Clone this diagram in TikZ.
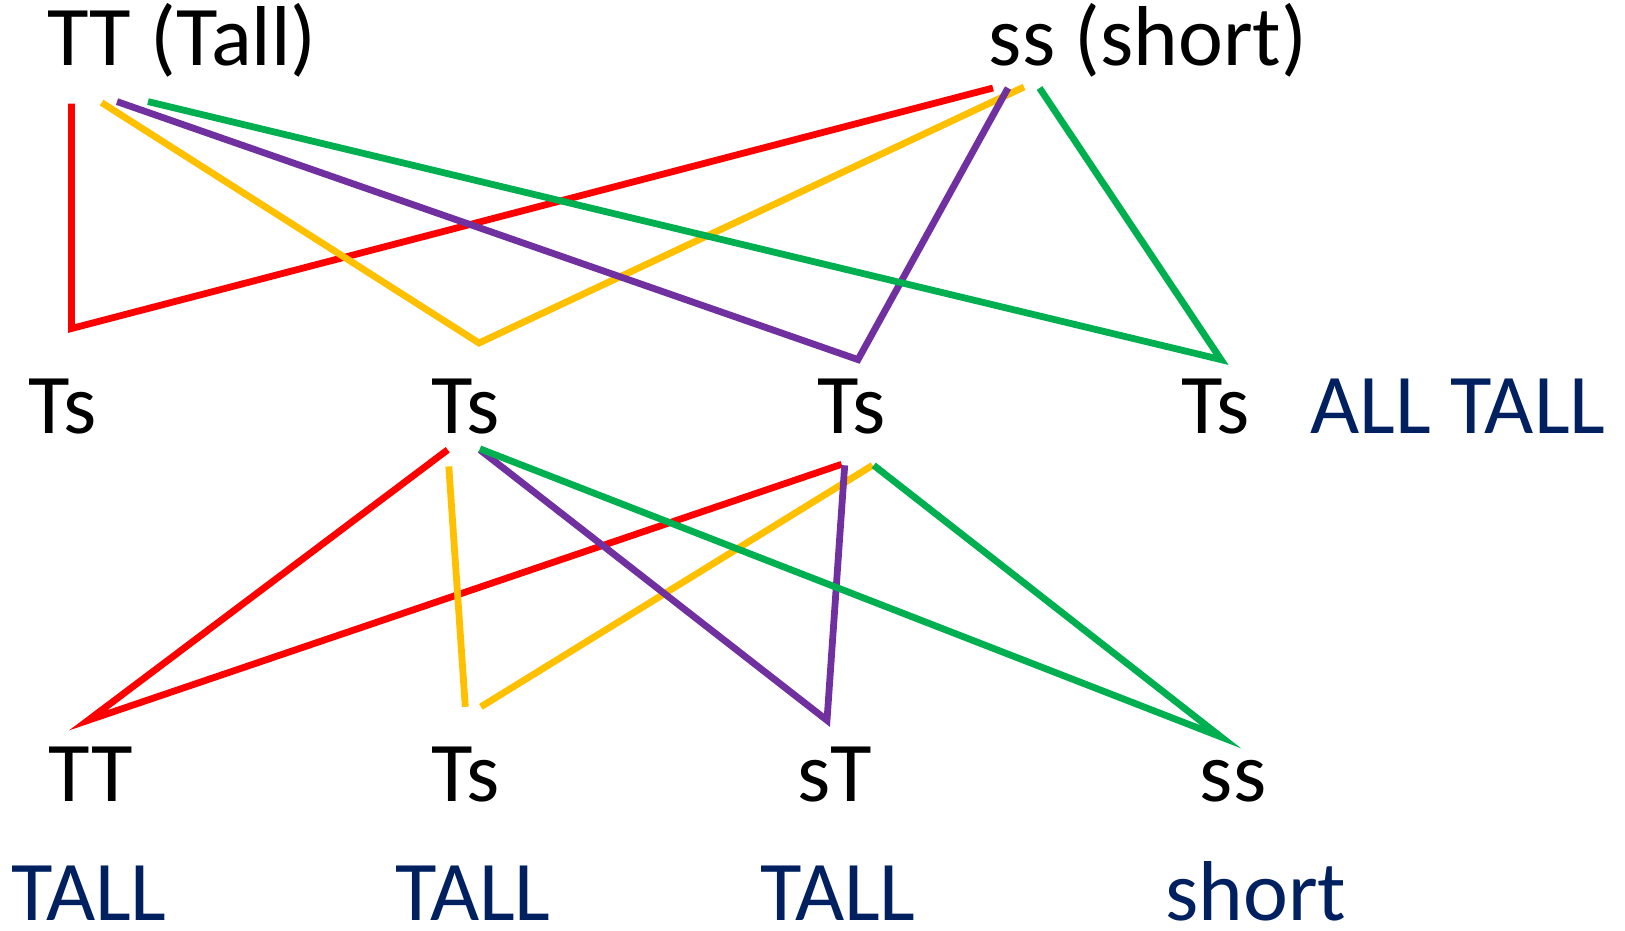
\documentclass[tikz,border=0pt]{standalone}
\usepackage{fontspec}
\setmainfont{Carlito}
\definecolor{navy}{HTML}{002060}
\definecolor{lred}{HTML}{FF0000}
\definecolor{lyellow}{HTML}{FFC000}
\definecolor{lpurple}{HTML}{7030A0}
\definecolor{lgreen}{HTML}{00B050}
\begin{document}
\begin{tikzpicture}[x=1pt,y=-1pt,
  lbl/.style={font=\fontsize{85}{100}\selectfont, inner sep=0pt, anchor=base, text=black},
  res/.style={lbl, text=navy},
  link/.style={line width=6.8pt, line join=miter},
  redl/.style={link, draw=lred},
  yell/.style={link, draw=lyellow},
  purl/.style={link, draw=lpurple},
  grnl/.style={link, draw=lgreen}]
\useasboundingbox (0,0) rectangle (1625,930);
% texts
\node[lbl] (tt) at (182,65) {TT (Tall)};
\node[lbl] (ss) at (1148,65) {ss (short)};
\node[lbl] (m1) at (63,433) {Ts};
\node[lbl] (m2) at (466,433) {Ts};
\node[lbl] (m3) at (852,433) {Ts};
\node[lbl] (m4) at (1216,433) {Ts};
\node[res] (all) at (1458,433) {ALL TALL};
\node[lbl] (b1) at (91,801) {TT};
\node[lbl] (b2) at (466,801) {Ts};
\node[lbl] (b3) at (835,801) {sT};
\node[lbl] (b4) at (1233,801) {ss};
\node[res] (r1) at (89,920) {TALL};
\node[res] (r2) at (473,920) {TALL};
\node[res] (r3) at (838,920) {TALL};
\node[res] (r4) at (1256,920) {short};
% first cross
\coordinate (rA) at (71.5,103.6);
\coordinate (rB) at (71.5,328.5);
\coordinate (rC) at (993,88);
\coordinate (yA) at (101.6,102.6);
\coordinate (yB) at (479,343);
\coordinate (yC) at (1024,87);
\coordinate (pA) at (117,101.6);
\coordinate (pB) at (858,359.6);
\coordinate (pC) at (1008,88);
\coordinate (gA) at (148,101.6);
\coordinate (gB) at (1221,359.6);
\coordinate (gC) at (1039.5,88);
\draw[redl] (rA) -- (rB) -- (rC);
\draw[yell] (yA) -- (yB) -- (yC);
\draw[purl] (pA) -- (pB) -- (pC);
\draw[grnl] (gA) -- (gB) -- (gC);
% second cross
\coordinate (sA) at (447.7,449.8);
\coordinate (sB) at (88.1,720.3);
\coordinate (sC) at (841.6,464.3);
\coordinate (tA) at (448.8,466.4);
\coordinate (tB) at (465.3,706.8);
\coordinate (tD) at (480.9,706.8);
\coordinate (tC) at (872.6,465.3);
\coordinate (uA) at (479.9,449.8);
\coordinate (uB) at (827,720.3);
\coordinate (uC) at (844.7,465.3);
\coordinate (vA) at (479.9,448.8);
\coordinate (vB) at (1221,736.9);
\coordinate (vC) at (873.7,465.3);
\draw[redl] (sA) -- (sB) -- (sC);
\draw[yell] (tA) -- (tB);
\draw[yell] (tD) -- (tC);
\draw[purl] (uA) -- (uB) -- (uC);
\draw[grnl] (vA) -- (vB) -- (vC);
\end{tikzpicture}
\end{document}
